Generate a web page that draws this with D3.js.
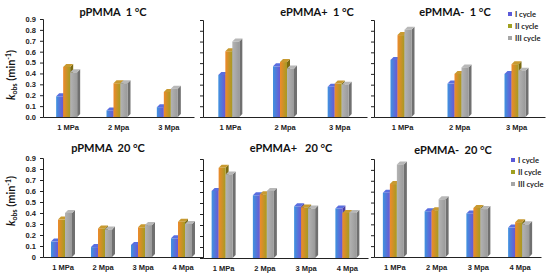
<!DOCTYPE html>
<html>
<head>
<meta charset="utf-8">
<script src="https://cdn.jsdelivr.net/npm/d3@7"></script>
<style>
  html, body { margin: 0; padding: 0; background: #fff; }
  svg { display: block; font-family: Lato, "Open Sans", sans-serif; }
  .title { white-space: pre; }
</style>
</head>
<body>
<script>
// categories
const pressures3 = ["1 MPa", "2 Mpa", "3 Mpa"];
const pressures4 = ["1 MPa", "2 Mpa", "3 Mpa", "4 Mpa"];
const cycles = ["I cycle", "II cycle", "III cycle"];
const yTicks = [0, 0.1, 0.2, 0.3, 0.4, 0.5, 0.6, 0.7, 0.8, 0.9];

// k_obs values, one row per cycle
const pPMMA1 = [[0.19, 0.06, 0.09], [0.46, 0.31, 0.23], [0.41, 0.31, 0.26]];
const ePMMAplus1 = [[0.39, 0.47, 0.28], [0.61, 0.51, 0.31], [0.70, 0.45, 0.30]];
const ePMMAminus1 = [[0.53, 0.31, 0.40], [0.76, 0.40, 0.49], [0.81, 0.46, 0.43]];
const pPMMA20 = [[0.14, 0.09, 0.11, 0.17], [0.34, 0.26, 0.27, 0.32], [0.40, 0.25, 0.29, 0.30]];
const ePMMAplus20 = [[0.61, 0.57, 0.47, 0.45], [0.82, 0.58, 0.46, 0.41], [0.76, 0.61, 0.45, 0.41]];
const ePMMAminus20 = [[0.59, 0.42, 0.40, 0.27], [0.67, 0.43, 0.45, 0.32], [0.85, 0.53, 0.44, 0.30]];

const width = 550, height = 278;

const svg = d3.select("body").append("svg")
    .attr("width", width)
    .attr("height", height);

// gradients for the bar faces
const faceColors = [["#3f93e0", "#6a58d2"], ["#ee8a2c", "#a69a22"], ["#b3b3b3", "#9a9a9a"]];
const sideColors = ["#4a3fa0", "#7a6a12", "#707070"];
const topColors = ["#5a6ee0", "#c89a30", "#b8b8b8"];
const legendColors = ["#5b5ad8", "#a0a020", "#a6a6a6"];

const defs = svg.append("defs");
faceColors.forEach((c, i) => {
    const g = defs.append("linearGradient")
        .attr("id", "face" + i)
        .attr("x1", "0%").attr("x2", "100%")
        .attr("y1", "0%").attr("y2", "0%");
    g.append("stop").attr("offset", "0%").attr("stop-color", c[0]);
    g.append("stop").attr("offset", "100%").attr("stop-color", c[1]);
});

const panels = [
    {title: "pPMMA  1 °C", cats: pressures3, values: pPMMA1, x0: 43, x1: 194, top: 19, bottom: 117, labels: true, fmt: d3.format(".1f"), tx: 113, ty: 16, ly: 75},
    {title: "ePMMA+  1 °C", cats: pressures3, values: ePMMAplus1, x0: 203, x1: 367, top: 20, bottom: 117, labels: false, tx: 317, ty: 16},
    {title: "ePMMA-  1 °C", cats: pressures3, values: ePMMAminus1, x0: 374, x1: 545, top: 20, bottom: 117, labels: false, tx: 455, ty: 16, legend: {x: 508, y: 15}},
    {title: "pPMMA  20 °C", cats: pressures4, values: pPMMA20, x0: 43, x1: 203, top: 158, bottom: 257, labels: true, fmt: d => d === 0 ? "0" : d3.format(".1f")(d), tx: 108, ty: 152, ly: 201},
    {title: "ePMMA+   20 °C", cats: pressures4, values: ePMMAplus20, x0: 203, x1: 368, top: 159, bottom: 258, labels: false, tx: 291, ty: 152},
    {title: "ePMMA-  20 °C", cats: pressures4, values: ePMMAminus20, x0: 374, x1: 541, top: 159, bottom: 257, labels: false, tx: 453, ty: 154, legend: {x: 511, y: 161}}
];

const barW = 7, depth = 3;

panels.forEach(p => {
    const g = svg.append("g");
    const x = d3.scaleBand().domain(p.cats).range([p.x0, p.x1]);
    const y = d3.scaleLinear().domain([0, 0.9]).range([p.bottom, p.top]);

    // bars
    p.values.forEach((row, si) => {
        row.forEach((v, ci) => {
            const cx = x(p.cats[ci]) + x.bandwidth() / 2;
            const bx = cx - (barW * 3 + depth) / 2 + si * barW;
            const by = y(v);
            const bh = p.bottom - by;
            // side face
            g.append("path")
                .attr("d", `M${bx + barW},${by} L${bx + barW + depth},${by - depth} L${bx + barW + depth},${p.bottom - depth} L${bx + barW},${p.bottom} Z`)
                .attr("fill", sideColors[si]);
            // top face
            g.append("path")
                .attr("d", `M${bx},${by} L${bx + depth},${by - depth} L${bx + barW + depth},${by - depth} L${bx + barW},${by} Z`)
                .attr("fill", topColors[si]);
            // front
            g.append("rect")
                .attr("x", bx).attr("y", by)
                .attr("width", barW).attr("height", bh)
                .attr("fill", `url(#face${si})`);
        });
    });

    // y axis
    const yAxis = d3.axisLeft(y).tickValues(yTicks).tickSize(3)
        .tickFormat(p.labels ? p.fmt : "");
    const ya = g.append("g")
        .attr("transform", `translate(${p.x0},0)`)
        .call(yAxis);
    ya.select(".domain").attr("stroke", "#222");
    ya.selectAll(".tick line").attr("stroke", "#222");
    ya.selectAll("text").attr("font-size", 7.5).attr("font-weight", "bold").attr("fill", "#222").attr("dx", -1);

    // x axis
    const xa = g.append("g")
        .attr("transform", `translate(0,${p.bottom})`)
        .call(d3.axisBottom(x).tickSize(0).tickPadding(8));
    xa.select(".domain").attr("stroke", "#222");
    xa.selectAll("text").attr("font-size", 7.5).attr("font-weight", "bold").attr("fill", "#222");

    // title
    g.append("text")
        .attr("class", "title")
        .attr("x", p.tx).attr("y", p.ty)
        .attr("text-anchor", "middle")
        .attr("font-size", 11).attr("font-weight", "bold")
        .attr("fill", "#111")
        .text(p.title);

    // legend
    if (p.legend) {
        cycles.forEach((c, i) => {
            g.append("rect")
                .attr("x", p.legend.x).attr("y", p.legend.y + i * 12 - 3)
                .attr("width", 4).attr("height", 4)
                .attr("fill", legendColors[i]);
            g.append("text")
                .attr("x", p.legend.x + 7).attr("y", p.legend.y + i * 12 + 1.5)
                .attr("font-size", 7.5).attr("font-weight", "bold")
                .attr("fill", "#222")
                .text(c);
        });
    }

    // y axis title
    if (p.labels) {
        const t = g.append("text")
            .attr("transform", `translate(15,${p.ly}) rotate(-90)`)
            .attr("text-anchor", "middle")
            .attr("font-size", 11).attr("font-weight", "bold")
            .attr("fill", "#111");
        t.append("tspan").attr("font-style", "italic").text("k");
        t.append("tspan").attr("font-size", 7).attr("dy", 2).text("obs");
        t.append("tspan").attr("dy", -2).text(" (min");
        t.append("tspan").attr("font-size", 7).attr("dy", -4).text("-1");
        t.append("tspan").attr("dy", 4).text(")");
    }
});
</script>
</body>
</html>
